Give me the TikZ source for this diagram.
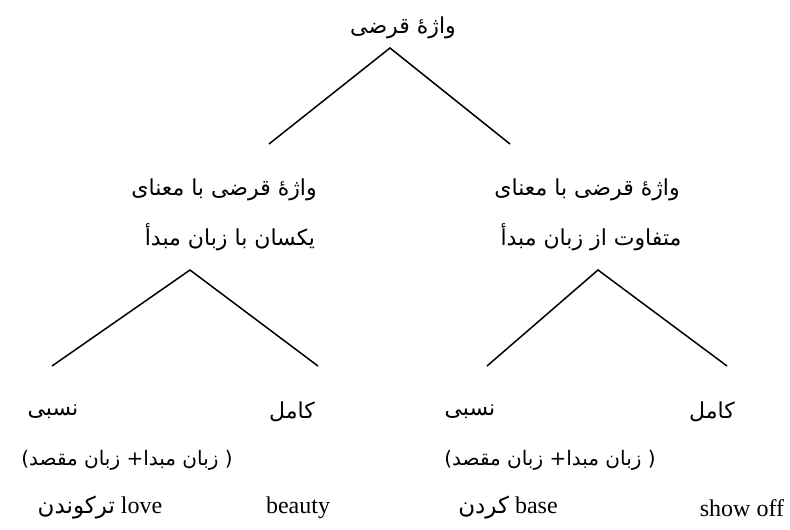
\documentclass[tikz,border=0pt]{standalone}
\usepackage{fontspec}
\setmainfont{Liberation Serif}
\newfontfamily\farsi[Script=Arabic]{DejaVu Sans}
\TeXXeTstate=1

\begin{document}
\begin{tikzpicture}[x=1pt,y=-1pt,
  every node/.style={inner sep=0pt,font=\fontsize{24}{28}\selectfont},
  fa/.style={font=\farsi\fontsize{22}{26}\selectfont}]
  \useasboundingbox (0,0) rectangle (790,530);

  \node (W) at (403,28) [fa] {\beginR واژهٔ قرضی\endR};
  \coordinate (T) at (390,48);
  \coordinate (T1) at (269,144);
  \coordinate (T2) at (510,144);

  \node (L1) at (224,190) [fa] {\beginR واژهٔ قرضی با معنای\endR};
  \node (L2) at (230,237) [fa] {\beginR یکسان با زبان مبدأ\endR};
  \node (R1) at (587,190) [fa] {\beginR واژهٔ قرضی با معنای\endR};
  \node (R2) at (591,237) [fa] {\beginR متفاوت از زبان مبدأ\endR};

  \coordinate (LT) at (190,270);
  \coordinate (LA) at (52,366);
  \coordinate (LB) at (318,366);
  \coordinate (RT) at (598,270);
  \coordinate (RA) at (487,366);
  \coordinate (RB) at (727,366);

\node (N1) at (53,412) [fa] {\beginR نسبی\endR};
\node (K1) at (292,412) [fa] {\beginR کامل\endR};
\node (N2) at (470,412) [fa] {\beginR نسبی\endR};
\node (K2) at (712,412) [fa] {\beginR کامل\endR};

\node (P1) at (127,460) [fa,font=\farsi\fontsize{20}{24}\selectfont] {\beginR ( زبان مبدا+ زبان مقصد)\endR};
\node (P2) at (550,460) [fa,font=\farsi\fontsize{20}{24}\selectfont] {\beginR ( زبان مبدا+ زبان مقصد)\endR};

\node (E1) at (100,508) {\beginR love {\farsi\fontsize{23}{26}\selectfont ترکوندن}\endR};
\node (E2) at (298,508) {beauty};
\node (E3) at (508,508) {\beginR base {\farsi\fontsize{23}{26}\selectfont کردن}\endR};
\node (E4) at (742,508) {show off};

\draw[line width=1.5pt]
   (T1) to (T) to (T2)
   (LA) to (LT) to (LB)
   (RA) to (RT) to (RB);

\end{tikzpicture}
\end{document}
